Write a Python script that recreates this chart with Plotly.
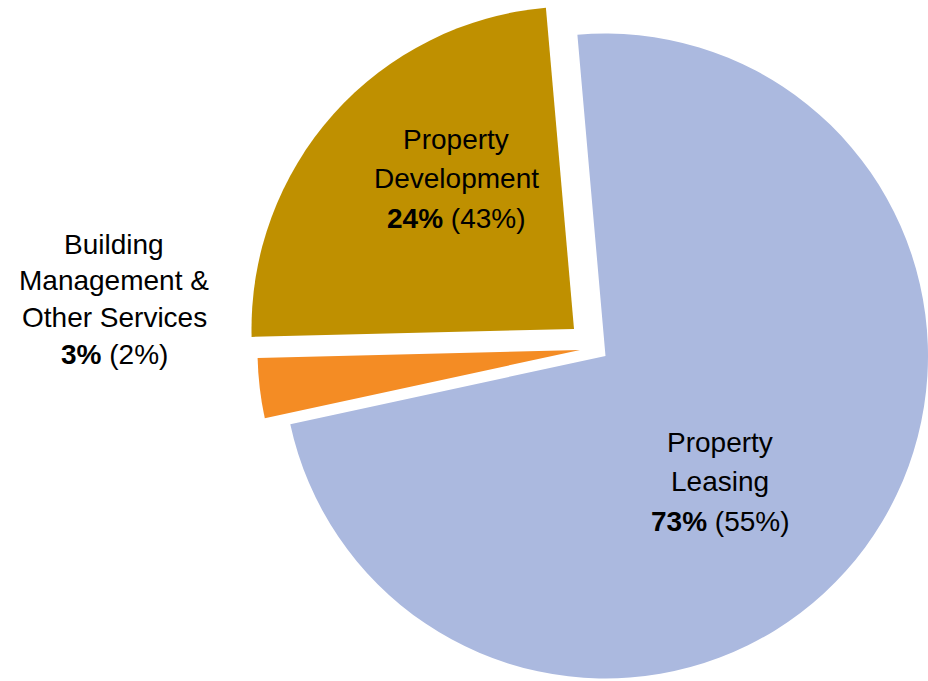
import plotly.graph_objects as go

# ---- data ----
segments = ["Property Leasing", "Building Management & Other Services", "Property Development"]
share_current = [73, 3, 24]          # % share (current period)
share_previous = [55, 2, 43]         # % share (previous period, in brackets)
label_lines = [["Property", "Leasing"],
               ["Building", "Management &", "Other Services"],
               ["Property", "Development"]]
colors = ["#ABB9DF", "#F48C24", "#BF9000"]

# ---- layout geometry (pixels) ----
W, H = 928, 681
R = 322.5
# exploded slice centres
centres = [(605.5, 356.0), (580.0, 350.0), (574.0, 329.0)]
# label anchor (centre of first line) and line spacing
label_pos = [(720, 442), (114, 244), (456, 139)]
line_gap = [39.5, 36.8, 39.5]

FONT = "Liberation Sans, Arial, sans-serif"

fig = go.Figure()
for i, (cx, cy) in enumerate(centres):
    mc = ["rgba(0,0,0,0)"] * len(segments)
    mc[i] = colors[i]
    fig.add_trace(go.Pie(
        labels=segments, values=share_current, sort=False,
        direction="clockwise", rotation=-5,
        marker=dict(colors=mc, line=dict(width=0)),
        textinfo="none", hoverinfo="skip", showlegend=False,
        domain=dict(x=[(cx - R) / W, min(1.0, (cx + R) / W)],
                    y=[max(0.0, 1 - (cy + R) / H), 1 - (cy - R) / H]),
    ))

for i in range(len(segments)):
    x0, y0 = label_pos[i]
    lines = label_lines[i] + [f"<b>{share_current[i]}%</b> ({share_previous[i]}%)"]
    for k, t in enumerate(lines):
        fig.add_annotation(
            x=x0 / W, y=1 - (y0 + k * line_gap[i]) / H, xref="paper", yref="paper",
            text=t, showarrow=False, xanchor="center", yanchor="middle",
            font=dict(family=FONT, size=28, color="#000000"),
        )

fig.update_layout(
    width=W, height=H, margin=dict(l=0, r=0, t=0, b=0),
    paper_bgcolor="white", plot_bgcolor="white",
)
fig.write_html("out.html", config={"displayModeBar": False},
               post_script="document.body.style.margin='0px';")
